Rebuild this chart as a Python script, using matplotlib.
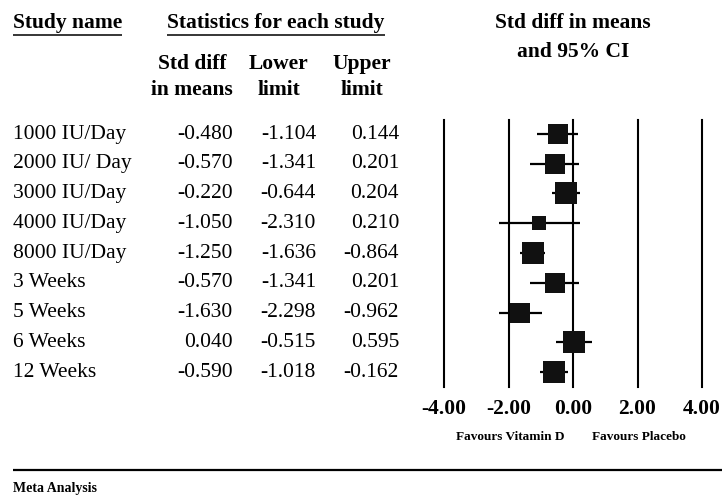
import matplotlib
matplotlib.use("Agg")
import matplotlib.pyplot as plt
import numpy as np

# ---- data ----
studies = ["1000 IU/Day", "2000 IU/ Day", "3000 IU/Day", "4000 IU/Day", "8000 IU/Day",
           "3 Weeks", "5 Weeks", "6 Weeks", "12 Weeks"]
std_diff = [-0.480, -0.570, -0.220, -1.050, -1.250, -0.570, -1.630, 0.040, -0.590]
lower = [-1.104, -1.341, -0.644, -2.310, -1.636, -1.341, -2.298, -0.515, -1.018]
upper = [0.144, 0.201, 0.204, 0.210, -0.864, 0.201, -0.962, 0.595, -0.162]
rel_weight = [0.81, 0.70, 0.94, 0.37, 1.00, 0.70, 0.76, 0.89, 0.94]
xticks = [-4, -2, 0, 2, 4]
xtick_labels = ["-4.00", "-2.00", "0.00", "2.00", "4.00"]

W, H = 722, 498
DPI = 100
plt.rcParams['font.family'] = ['Liberation Serif', 'DejaVu Serif']

fig = plt.figure(figsize=(W / DPI, H / DPI), dpi=DPI)

# overlay axes in pixel coordinates for the table text
tx = fig.add_axes([0, 0, 1, 1])
tx.set_xlim(0, W)
tx.set_ylim(H, 0)
tx.axis("off")

FS = 15.5
row_y0, row_dy = 134, 29.75

def underline(t, ypix):
    fig.canvas.draw()
    bb = t.get_window_extent()
    tx.plot([bb.x0, bb.x1], [ypix, ypix], color="black", lw=1.1, solid_capstyle="butt")

t1 = tx.text(13, 23, "Study name", fontsize=FS, fontweight="bold", ha="left", va="center")
t2 = tx.text(276, 23, "Statistics for each study", fontsize=FS, fontweight="bold", ha="center", va="center")
underline(t1, 35)
underline(t2, 35)

for xc, lab in [(192, "Std diff\nin means"), (279, "Lower\nlimit"), (362, "Upper\nlimit")]:
    tx.text(xc, 77, lab, fontsize=FS, fontweight="bold", ha="center", va="center",
            linespacing=1.38)

tx.text(573, 37, "Std diff in means\nand 95% CI", fontsize=FS, fontweight="bold", ha="center",
        va="center", linespacing=1.6)

for i, name in enumerate(studies):
    y = row_y0 + i * row_dy
    tx.text(13, y, name, fontsize=FS, ha="left", va="center")
    tx.text(233, y, f"{std_diff[i]:.3f}", fontsize=FS, ha="right", va="center")
    tx.text(316, y, f"{lower[i]:.3f}", fontsize=FS, ha="right", va="center")
    tx.text(399, y, f"{upper[i]:.3f}", fontsize=FS, ha="right", va="center")

# bottom rule and label
tx.plot([13, W], [470, 470], color="black", lw=1.6, solid_capstyle="butt")
tx.text(13, 488, "Meta Analysis", fontsize=10, fontweight="bold", ha="left", va="center")

# ---- forest axes ----
ax_l, ax_r = 444, 702
ax_t, ax_b = 120, 387
ax = fig.add_axes([ax_l / W, 1 - ax_b / H, (ax_r - ax_l) / W, (ax_b - ax_t) / H])
ax.patch.set_alpha(0)
n = len(studies)
ax.set_xlim(-4, 4)
ax.set_ylim((ax_b - row_y0) / row_dy, -(row_y0 - ax_t) / row_dy)
for s in ax.spines.values():
    s.set_visible(False)
ax.set_yticks([])
ax.set_xticks([])

for xv in xticks:
    ax.axvline(xv, color="black", lw=1.5, clip_on=False)

ys = np.arange(n)
for i in range(n):
    ax.plot([lower[i], upper[i]], [ys[i], ys[i]], color="black", lw=1.6, solid_capstyle="butt",
            zorder=3)
    side_px = 23 * np.sqrt(rel_weight[i])
    ax.plot(std_diff[i], ys[i], marker="s", color="#111111", markersize=side_px * 72 / DPI,
            markeredgewidth=0, zorder=4)

for xv, lab in zip(xticks, xtick_labels):
    xp = ax_l + (xv - (-4)) / 8 * (ax_r - ax_l)
    tx.text(xp, 409, lab, fontsize=FS, fontweight="bold", ha="center", va="center")

tx.text(510, 437, "Favours Vitamin D", fontsize=9.5, fontweight="bold", ha="center", va="center")
tx.text(639, 437, "Favours Placebo", fontsize=9.5, fontweight="bold", ha="center", va="center")

fig.savefig("out.png", dpi=DPI)
